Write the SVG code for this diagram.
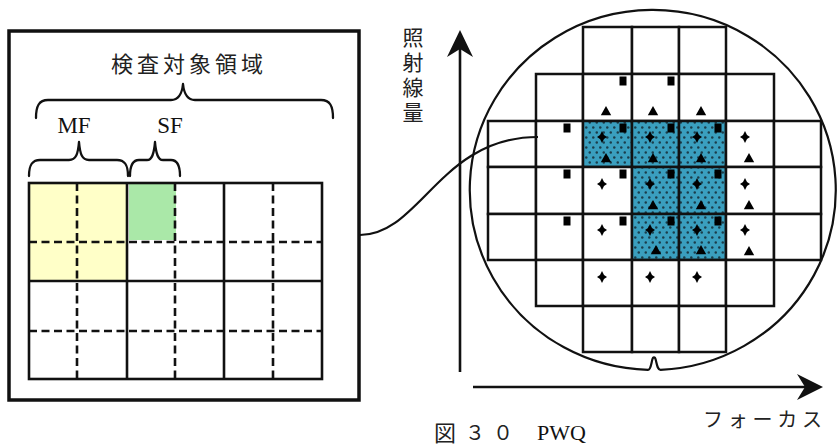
<svg xmlns="http://www.w3.org/2000/svg" width="838" height="445" viewBox="0 0 838 445">
<style>
.jp{font-family:"Noto Sans CJK JP","Noto Sans CJK SC",sans-serif;fill:#222}
.lat{font-family:"Liberation Serif","Times New Roman",serif;fill:#111}
.brace{fill:none;stroke:#111;stroke-width:2.3;stroke-linejoin:round;stroke-linecap:round}
.solid{fill:none;stroke:#111;stroke-width:2.6}
.dash{fill:none;stroke:#111;stroke-width:2.6;stroke-dasharray:8 4.5}
.cell{fill:#fff;stroke:#111;stroke-width:2.5}
.hot{fill:url(#dots);stroke:#111;stroke-width:2.5}
.ax{fill:none;stroke:#111;stroke-width:2.6}
.mk{fill:#000}
</style>
<defs>
<pattern id="dots" width="7" height="10" patternUnits="userSpaceOnUse">
<rect width="7" height="10" fill="#3a9fbf"/>
<circle cx="1.75" cy="2.5" r="1.25" fill="#1b3d4a"/>
<circle cx="5.25" cy="7.5" r="1.25" fill="#1b3d4a"/>
</pattern>
<rect id="sq" x="-3.5" y="-4.5" width="7" height="9"/>
<polygon id="tri" points="0,-5 5.2,4.2 -5.2,4.2"/>
<polygon id="pl" points="0,-6 2,-2 5,0 2,2 0,6 -2,2 -5,0 -2,-2"/>
</defs>
<rect width="838" height="445" fill="#fff"/>

<g id="inspection-panel">
<rect x="9" y="31" width="350" height="369" fill="none" stroke="#111" stroke-width="3.5"/>
<text class="jp" x="111" y="72" font-size="22" textLength="152" lengthAdjust="spacing">検査対象領域</text>
<path class="brace" d="M36,118 C36,106 39,100 48,100 L171,100 C179,100 182,94 183,84 C184,94 187,100 195,100 L321,100 C330,100 333,106 333,118"/>
<text class="lat" x="74" y="133" font-size="23" text-anchor="middle">MF</text>
<text class="lat" x="170" y="133" font-size="23" text-anchor="middle">SF</text>
<path class="brace" d="M29,176 C29,165 32,160 40,160 L69,160 C76,160 78,154 79,142 C80,154 82,160 89,160 L117,160 C125,160 128,165 128,176"/>
<path class="brace" d="M130,176 C130,165 133,160 139,160 L147,160 C152,160 154,154 155,142 C156,154 158,160 163,160 L171,160 C177,160 180,165 180,176"/>
</g>

<g id="shot-grid">
<rect x="29" y="183" width="98" height="98" fill="#ffffc8"/>
<rect x="129" y="184" width="47" height="56" fill="#aae8a8"/>
<line class="dash" x1="77" y1="183" x2="77" y2="379"/>
<line class="dash" x1="175" y1="183" x2="175" y2="379"/>
<line class="dash" x1="273" y1="183" x2="273" y2="379"/>
<line class="dash" x1="29" y1="242" x2="322" y2="242"/>
<line class="dash" x1="29" y1="331" x2="322" y2="331"/>
<rect class="solid" x="29" y="183" width="293" height="196"/>
<line class="solid" x1="29" y1="281" x2="322" y2="281"/>
<line class="solid" x1="127" y1="183" x2="127" y2="379"/>
<line class="solid" x1="224" y1="183" x2="224" y2="379"/>
</g>

<g id="wafer">
<path fill="none" stroke="#111" stroke-width="2.2" d="M648,369.9 A183,180 0 1 1 660.5,369.8 C657.5,369.8 657,365 655.8,360 C655,356.5 653,356.5 652.2,360 C651,365 650.5,369.9 648,369.9 Z"/>
<g id="row0">
<rect class="cell" x="583" y="27" width="49" height="47"/>
<rect class="cell" x="632" y="27" width="47" height="47"/>
<rect class="cell" x="679" y="27" width="47" height="47"/>
</g>
<g id="row1">
<rect class="cell" x="536" y="74" width="47" height="47"/>
<rect class="cell" x="583" y="74" width="49" height="47"/>
<rect class="cell" x="632" y="74" width="47" height="47"/>
<rect class="cell" x="679" y="74" width="47" height="47"/>
<rect class="cell" x="726" y="74" width="48" height="47"/>
</g>
<g id="row2">
<rect class="cell" x="488" y="121" width="48" height="46"/>
<rect class="cell" x="536" y="121" width="47" height="46"/>
<rect class="hot" x="583" y="121" width="49" height="46"/>
<rect class="hot" x="632" y="121" width="47" height="46"/>
<rect class="hot" x="679" y="121" width="47" height="46"/>
<rect class="cell" x="726" y="121" width="48" height="46"/>
<rect class="cell" x="774" y="121" width="47" height="46"/>
</g>
<g id="row3">
<rect class="cell" x="488" y="167" width="48" height="47"/>
<rect class="cell" x="536" y="167" width="47" height="47"/>
<rect class="cell" x="583" y="167" width="49" height="47"/>
<rect class="hot" x="632" y="167" width="47" height="47"/>
<rect class="hot" x="679" y="167" width="47" height="47"/>
<rect class="cell" x="726" y="167" width="48" height="47"/>
<rect class="cell" x="774" y="167" width="47" height="47"/>
</g>
<g id="row4">
<rect class="cell" x="488" y="214" width="48" height="46"/>
<rect class="cell" x="536" y="214" width="47" height="46"/>
<rect class="cell" x="583" y="214" width="49" height="46"/>
<rect class="hot" x="632" y="214" width="47" height="46"/>
<rect class="hot" x="679" y="214" width="47" height="46"/>
<rect class="cell" x="726" y="214" width="48" height="46"/>
<rect class="cell" x="774" y="214" width="47" height="46"/>
</g>
<g id="row5">
<rect class="cell" x="536" y="260" width="47" height="46"/>
<rect class="cell" x="583" y="260" width="49" height="46"/>
<rect class="cell" x="632" y="260" width="47" height="46"/>
<rect class="cell" x="679" y="260" width="47" height="46"/>
<rect class="cell" x="726" y="260" width="48" height="46"/>
</g>
<g id="row6">
<rect class="cell" x="583" y="306" width="49" height="46"/>
<rect class="cell" x="632" y="306" width="47" height="46"/>
<rect class="cell" x="679" y="306" width="47" height="46"/>
</g>
<g id="marks" class="mk">
<use href="#sq" x="623" y="81"/><use href="#sq" x="671" y="81"/>
<use href="#tri" x="606" y="111"/><use href="#tri" x="653" y="111"/><use href="#tri" x="701" y="111"/>
<use href="#sq" x="567" y="128"/><use href="#sq" x="623" y="128"/><use href="#sq" x="671" y="128"/><use href="#sq" x="718" y="128"/>
<use href="#pl" x="602" y="137"/><use href="#pl" x="650" y="137"/><use href="#pl" x="697" y="137"/><use href="#pl" x="745" y="137"/>
<use href="#tri" x="606" y="158"/><use href="#tri" x="653" y="158"/><use href="#tri" x="701" y="158"/><use href="#tri" x="749" y="158"/>
<use href="#sq" x="567" y="174"/><use href="#sq" x="623" y="174"/><use href="#sq" x="671" y="174"/><use href="#sq" x="718" y="174"/>
<use href="#pl" x="602" y="184"/><use href="#pl" x="650" y="184"/><use href="#pl" x="697" y="184"/><use href="#pl" x="745" y="184"/>
<use href="#tri" x="653" y="205"/><use href="#tri" x="701" y="205"/><use href="#tri" x="749" y="205"/>
<use href="#sq" x="567" y="221"/><use href="#sq" x="623" y="221"/><use href="#sq" x="671" y="221"/><use href="#sq" x="718" y="221"/>
<use href="#pl" x="602" y="230"/><use href="#pl" x="650" y="230"/><use href="#pl" x="697" y="230"/><use href="#pl" x="745" y="230"/>
<use href="#tri" x="656" y="250"/><use href="#tri" x="701" y="250"/><use href="#tri" x="749" y="251"/>
<use href="#pl" x="602" y="277"/><use href="#pl" x="650" y="277"/><use href="#pl" x="697" y="277"/>
</g>
</g>

<g id="connectors">
<path fill="none" stroke="#111" stroke-width="2.2" d="M360,235 C420,235 440,137 538,137"/>
</g>

<g id="axes">
<line class="ax" x1="460" y1="372" x2="460" y2="46"/>
<polygon points="460,30 473,57 460,49 447,57" fill="#111"/>
<line class="ax" x1="473" y1="387" x2="808" y2="387"/>
<polygon points="823,387 797,374 805,387 797,400" fill="#111"/>
</g>

<g id="labels">
<text class="jp" x="413" y="45" font-size="21" text-anchor="middle">照</text>
<text class="jp" x="413" y="70" font-size="21" text-anchor="middle">射</text>
<text class="jp" x="413" y="95" font-size="21" text-anchor="middle">線</text>
<text class="jp" x="413" y="120" font-size="21" text-anchor="middle">量</text>
<text class="jp" x="703" y="427" font-size="20" textLength="119" lengthAdjust="spacing">フォーカス</text>
<text class="jp" x="434" y="441" font-size="22">図</text>
<text class="jp" x="465" y="440" font-size="20">３</text>
<text class="jp" x="493" y="440" font-size="20">０</text>
<text class="lat" x="537" y="440" font-size="22">PWQ</text>
</g>
</svg>
